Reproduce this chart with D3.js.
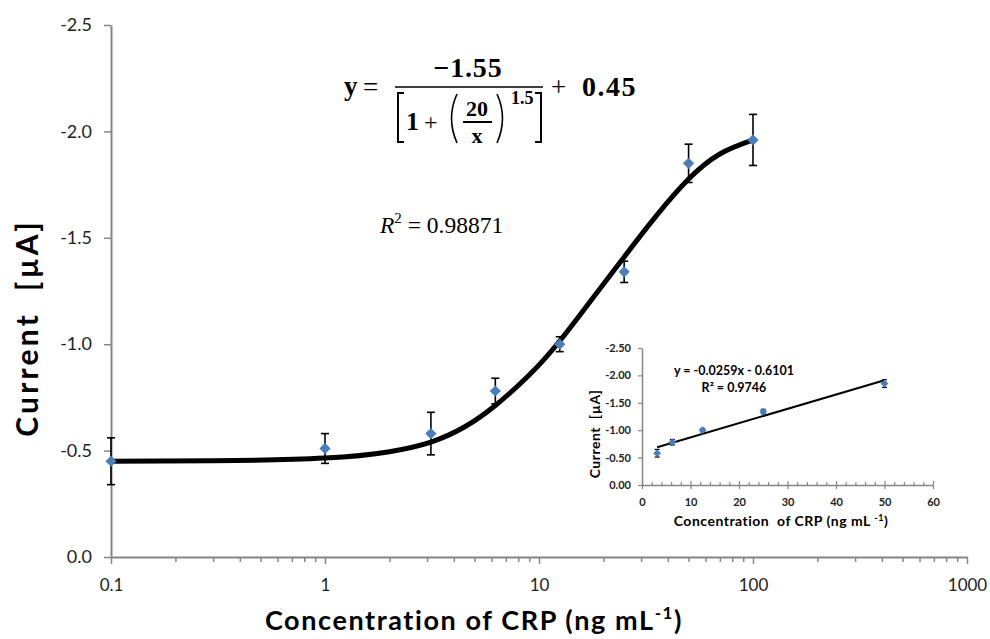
<!DOCTYPE html>
<html>
<head>
<meta charset="utf-8">
<script src="https://cdn.jsdelivr.net/npm/d3@7"></script>
<style>
  body { margin: 0; background: #fff; }
  svg { display: block; }
  .tick text { font-family: Lato, "Open Sans", sans-serif; }
</style>
</head>
<body>
<div id="chart"></div>
<script>
// CRP calibration data (current in µA, negative = cathodic)
const conc = [0.1, 1, 3.125, 6.25, 12.5, 25, 50, 100];
const current = [-0.45, -0.51, -0.58, -0.78, -1.0, -1.34, -1.85, -1.96];
const errs = [0.11, 0.07, 0.10, 0.06, 0.035, 0.05, 0.09, 0.12];

// fitted sigmoid
const fitX = [0.1, 0.3, 1, 2, 3.125, 4.5, 6.25, 9, 12.5, 18, 25, 35, 50, 70, 100];
const fitY = [-0.45, -0.452, -0.465, -0.495, -0.54, -0.612, -0.712, -0.855, -1.015, -1.222, -1.41, -1.598, -1.776, -1.894, -1.96];

// inset: linear range
const insetConc = [3.125, 6.25, 12.5, 25, 50];
const insetCurrent = [-0.58, -0.78, -1.0, -1.34, -1.85];
const insetErrs = [0.07, 0.05, 0.03, 0.04, 0.07];
const insetLineX = [3.125, 50];
const insetLineY = [-0.69, -1.91];

const yTicks = [0, -0.5, -1.0, -1.5, -2.0, -2.5];
const yTickLabels = ["0.0", "-0.5", "-1.0", "-1.5", "-2.0", "-2.5"];
const xTicks = [0.1, 1, 10, 100, 1000];
const xTickLabels = ["0.1", "1", "10", "100", "1000"];
const insetYTicks = [0, -0.5, -1.0, -1.5, -2.0, -2.5];
const insetYTickLabels = ["0.00", "-0.50", "-1.00", "-1.50", "-2.00", "-2.50"];
const insetXTicks = [0, 10, 20, 30, 40, 50, 60];

const W = 990, H = 639;
const blue = "#4a7ebb";
const axisGrey = "#868686";
const sans = 'Lato, "Open Sans", sans-serif';
const serif = '"Liberation Serif", "DejaVu Serif", serif';

const svg = d3.select("#chart").append("svg").attr("width", W).attr("height", H);

// ---------- main chart ----------
const x = d3.scaleLog().domain([0.1, 1000]).range([111, 967]);
const y = d3.scaleLinear().domain([0, -2.5]).range([557, 25]);

// minor x ticks
const minorTicks = x.ticks().filter((d) => !xTicks.some((t) => Math.abs(t - d) < 1e-9));
svg.append("g")
  .attr("transform", "translate(0,557)")
  .call(d3.axisBottom(x).tickValues(minorTicks).tickSize(5).tickFormat(""))
  .call((g) => g.select(".domain").remove())
  .call((g) => g.selectAll("line").attr("stroke", axisGrey).attr("stroke-width", 1.5));

const xAxis_g = svg.append("g")
  .attr("transform", "translate(0,557)")
  .call(d3.axisBottom(x).tickValues(xTicks).tickSize(7).tickSizeOuter(0)
    .tickFormat((d, i) => xTickLabels[i]));
xAxis_g.select(".domain").attr("stroke", axisGrey).attr("stroke-width", 2);
xAxis_g.selectAll("line").attr("stroke", axisGrey).attr("stroke-width", 1.5);
xAxis_g.selectAll("text").attr("font-size", 17).attr("fill", "#222").attr("dy", "1.4em");

const yAxis_g = svg.append("g")
  .attr("transform", "translate(111,0)")
  .call(d3.axisLeft(y).tickValues(yTicks).tickSize(7).tickSizeOuter(0)
    .tickFormat((d, i) => yTickLabels[i]));
yAxis_g.select(".domain").attr("stroke", axisGrey).attr("stroke-width", 2);
yAxis_g.selectAll("line").attr("stroke", axisGrey).attr("stroke-width", 1.5);
yAxis_g.selectAll("text").attr("font-size", 18).attr("fill", "#222").attr("x", -19);

// fitted curve
const fitLine = d3.line()
  .x((d, i) => x(fitX[i]))
  .y((d) => y(d))
  .curve(d3.curveNatural);
svg.append("path")
  .datum(fitY)
  .attr("d", fitLine)
  .attr("fill", "none")
  .attr("stroke", "#000")
  .attr("stroke-width", 5)
  .attr("stroke-linecap", "round");

// error bars
const eb = svg.append("g").attr("stroke", "#000").attr("stroke-width", 1.6);
conc.forEach((c, i) => {
  const cx = x(c), y1 = y(current[i] - errs[i]), y2 = y(current[i] + errs[i]);
  eb.append("line").attr("x1", cx).attr("x2", cx).attr("y1", y1).attr("y2", y2);
  eb.append("line").attr("x1", cx - 4).attr("x2", cx + 4).attr("y1", y1).attr("y2", y1);
  eb.append("line").attr("x1", cx - 4).attr("x2", cx + 4).attr("y1", y2).attr("y2", y2);
});

// diamond markers
const diamond = d3.symbol().type(d3.symbolDiamond2).size(80);
svg.append("g").selectAll("path")
  .data(conc)
  .enter()
  .append("path")
  .attr("d", diamond)
  .attr("transform", (d, i) => `translate(${x(d)},${y(current[i])})`)
  .attr("fill", blue);

// axis titles
svg.append("text")
  .attr("x", 474).attr("y", 630)
  .attr("text-anchor", "middle")
  .attr("font-family", sans).attr("font-weight", "bold").attr("font-size", 27)
  .attr("letter-spacing", 1.6)
  .attr("fill", "#000")
  .html('Concentration of CRP (ng mL<tspan font-size="17" dy="-11">-1</tspan><tspan dy="11">)</tspan>');

svg.append("text")
  .attr("transform", "translate(38,328) rotate(-90)")
  .attr("text-anchor", "middle")
  .attr("font-family", sans).attr("font-weight", "bold").attr("font-size", 30)
  .attr("letter-spacing", 3.2)
  .attr("fill", "#000")
  .attr("xml:space", "preserve")
  .text("Current  [µA]");

// fit equation
const eq = svg.append("g").attr("font-family", serif).attr("fill", "#000");
eq.append("text").attr("x", 344).attr("y", 95).attr("font-size", 27).attr("font-weight", "bold").text("y");
eq.append("text").attr("x", 363).attr("y", 96).attr("font-size", 27).text("=");
eq.append("text").attr("x", 468).attr("y", 77).attr("text-anchor", "middle").attr("font-size", 28).attr("font-weight", "bold").attr("letter-spacing", 0.8).text("−1.55");
eq.append("line").attr("x1", 395).attr("x2", 543).attr("y1", 87).attr("y2", 87).attr("stroke", "#000").attr("stroke-width", 1.6);
eq.append("path").attr("d", "M404,93 H398 V142 H404 M535,93 H541 V142 H535").attr("fill", "none").attr("stroke", "#000").attr("stroke-width", 2);
eq.append("text").attr("x", 406).attr("y", 130).attr("font-size", 26).attr("font-weight", "bold").text("1");
eq.append("text").attr("x", 424).attr("y", 130).attr("font-size", 24).text("+");
eq.append("path").attr("d", "M457,94 Q446,118 457,143 M497,94 Q508,118 497,143").attr("fill", "none").attr("stroke", "#000").attr("stroke-width", 1.6);
eq.append("text").attr("x", 477).attr("y", 116).attr("text-anchor", "middle").attr("font-size", 22).attr("font-weight", "bold").text("20");
eq.append("line").attr("x1", 463).attr("x2", 492).attr("y1", 122).attr("y2", 122).attr("stroke", "#000").attr("stroke-width", 2);
eq.append("text").attr("x", 477).attr("y", 143).attr("text-anchor", "middle").attr("font-size", 22).attr("font-weight", "bold").text("x");
eq.append("text").attr("x", 511).attr("y", 104).attr("font-size", 18).attr("font-weight", "bold").text("1.5");
eq.append("text").attr("x", 551).attr("y", 96).attr("font-size", 27).text("+");
eq.append("text").attr("x", 582).attr("y", 96).attr("font-size", 28).attr("font-weight", "bold").attr("letter-spacing", 1.5).text("0.45");

svg.append("text")
  .attr("x", 380).attr("y", 233)
  .attr("font-family", serif).attr("font-size", 23.5).attr("fill", "#000")
  .html('<tspan font-style="italic">R</tspan><tspan font-size="15" dy="-10">2</tspan><tspan dy="10"> = 0.98871</tspan>');

// ---------- inset ----------
const ix = d3.scaleLinear().domain([0, 60]).range([642, 933]);
const iy = d3.scaleLinear().domain([0, -2.5]).range([485, 348]);

const insetMinor = d3.range(0, 61, 2).filter((d) => d % 10 !== 0);
svg.append("g")
  .attr("transform", "translate(0,485)")
  .call(d3.axisTop(ix).tickValues(insetMinor).tickSize(3).tickFormat(""))
  .call((g) => g.select(".domain").remove())
  .call((g) => g.selectAll("line").attr("stroke", axisGrey).attr("stroke-width", 1.2));

const ixAxis_g = svg.append("g")
  .attr("transform", "translate(0,485)")
  .call(d3.axisBottom(ix).tickValues(insetXTicks).tickSize(4).tickSizeOuter(0));
ixAxis_g.selectAll(".tick line").attr("y1", -4);
ixAxis_g.select(".domain").attr("stroke", axisGrey).attr("stroke-width", 1.5);
ixAxis_g.selectAll("line").attr("stroke", axisGrey).attr("stroke-width", 1.2);
ixAxis_g.selectAll("text").attr("font-size", 11).attr("font-weight", "bold").attr("fill", "#222").attr("dy", "1.25em");

const iyAxis_g = svg.append("g")
  .attr("transform", "translate(642,0)")
  .call(d3.axisLeft(iy).tickValues(insetYTicks).tickSize(4).tickSizeOuter(0)
    .tickFormat((d, i) => insetYTickLabels[i]));
iyAxis_g.select(".domain").attr("stroke", axisGrey).attr("stroke-width", 1.5);
iyAxis_g.selectAll("line").attr("stroke", axisGrey).attr("stroke-width", 1.2);
iyAxis_g.selectAll("text").attr("font-size", 11).attr("font-weight", "bold").attr("fill", "#222").attr("x", -11);

svg.append("path")
  .datum(insetLineY)
  .attr("d", d3.line().x((d, i) => ix(insetLineX[i])).y((d) => iy(d)))
  .attr("stroke", "#000").attr("stroke-width", 2).attr("fill", "none");

const ieb = svg.append("g").attr("stroke", "#000").attr("stroke-width", 1.2);
insetConc.forEach((c, i) => {
  const cx = ix(c), y1 = iy(insetCurrent[i] - insetErrs[i]), y2 = iy(insetCurrent[i] + insetErrs[i]);
  ieb.append("line").attr("x1", cx).attr("x2", cx).attr("y1", y1).attr("y2", y2);
  ieb.append("line").attr("x1", cx - 2.5).attr("x2", cx + 2.5).attr("y1", y1).attr("y2", y1);
  ieb.append("line").attr("x1", cx - 2.5).attr("x2", cx + 2.5).attr("y1", y2).attr("y2", y2);
});

svg.append("g").selectAll("path")
  .data(insetConc)
  .enter()
  .append("path")
  .attr("d", diamond)
  .attr("transform", (d, i) => `translate(${ix(d)},${iy(insetCurrent[i])}) scale(0.7)`)
  .attr("fill", blue);

svg.append("text")
  .attr("x", 781).attr("y", 526)
  .attr("text-anchor", "middle")
  .attr("font-family", sans).attr("font-weight", "bold").attr("font-size", 14)
  .attr("letter-spacing", 0.5)
  .attr("fill", "#000")
  .attr("xml:space", "preserve")
  .html('Concentration  of CRP (ng mL <tspan font-size="9" dy="-5">-1</tspan><tspan dy="5">)</tspan>');

svg.append("text")
  .attr("transform", "translate(600,434) rotate(-90)")
  .attr("text-anchor", "middle")
  .attr("font-family", sans).attr("font-weight", "bold").attr("font-size", 14)
  .attr("letter-spacing", 0.5)
  .attr("fill", "#000")
  .attr("xml:space", "preserve")
  .text("Current  [µA]");

svg.append("text")
  .attr("x", 734).attr("y", 375)
  .attr("text-anchor", "middle")
  .attr("font-family", sans).attr("font-weight", "bold").attr("font-size", 12.5)
  .attr("fill", "#000")
  .text("y = -0.0259x - 0.6101");
svg.append("text")
  .attr("x", 734).attr("y", 392)
  .attr("text-anchor", "middle")
  .attr("font-family", sans).attr("font-weight", "bold").attr("font-size", 12.5)
  .attr("fill", "#000")
  .text("R² = 0.9746");
</script>
</body>
</html>
